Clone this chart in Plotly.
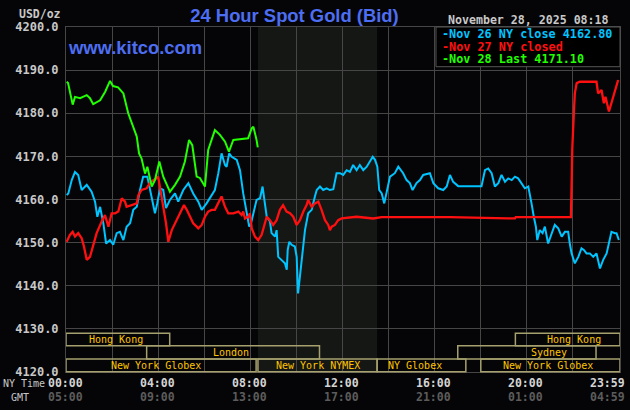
import plotly.graph_objects as go

# ---------------- data ----------------
# hours since 00:00 NY time, price in USD/oz
nov26_time = [0.03, 0.10, 0.25, 0.39, 0.53, 0.68, 0.90, 1.11, 1.26, 1.36, 1.48, 1.62, 1.74, 1.91, 2.05, 2.20, 2.34,
              2.49, 2.63, 2.78, 2.92, 3.07, 3.21, 3.35, 3.53, 3.72, 3.86, 3.96, 4.08, 4.22, 4.34, 4.51, 4.73, 4.87,
              5.09, 5.31, 5.52, 5.74, 5.89, 6.10, 6.32, 6.46, 6.61, 6.75, 6.90, 6.97, 7.08, 7.19, 7.41, 7.55, 7.69,
              7.84, 7.95, 8.03, 8.13, 8.27, 8.42, 8.53, 8.63, 8.71, 8.85, 8.92, 9.07, 9.14, 9.21, 9.36, 9.50, 9.58,
              9.62, 9.69, 9.79, 9.93, 10.01, 10.05, 10.07, 10.15, 10.30, 10.37, 10.51, 10.66, 10.80, 10.88, 11.02,
              11.16, 11.31, 11.45, 11.60, 11.74, 11.89, 12.03, 12.18, 12.32, 12.46, 12.61, 12.75, 12.90, 13.05,
              13.19, 13.31, 13.41, 13.51, 13.59, 13.70, 13.81, 13.91, 14.06, 14.27, 14.42, 14.63, 14.78, 14.92,
              15.04, 15.21, 15.36, 15.50, 15.79, 15.94, 16.15, 16.37, 16.52, 16.66, 16.80, 17.02, 18.03, 18.18,
              18.32, 18.47, 18.61, 18.76, 18.90, 19.05, 19.19, 19.34, 19.48, 19.62, 19.77, 19.91, 20.06, 20.13,
              20.20, 20.30, 20.39, 20.45, 20.56, 20.68, 20.78, 20.92, 21.07, 21.21, 21.36, 21.51, 21.65, 21.79,
              21.87, 21.94, 22.08, 22.23, 22.37, 22.47, 22.59, 22.73, 22.88, 23.02, 23.17, 23.31, 23.46, 23.57,
              23.67, 23.82, 23.89, 23.99]
nov26_price = [4161.0, 4161.4, 4164.5, 4166.4, 4165.7, 4162.2, 4163.4, 4161.8, 4159.5, 4156.0, 4158.3, 4154.5,
               4149.8, 4150.6, 4149.5, 4152.2, 4152.5, 4150.6, 4153.7, 4154.5, 4157.6, 4158.3, 4162.2, 4165.3,
               4165.3, 4160.7, 4156.8, 4159.1, 4162.6, 4162.2, 4158.0, 4159.9, 4161.4, 4159.5, 4162.2, 4163.8,
               4161.4, 4159.5, 4157.6, 4159.1, 4161.0, 4162.2, 4166.1, 4170.7, 4168.0, 4167.6, 4170.7, 4169.9,
               4169.2, 4166.8, 4161.4, 4156.8, 4153.7, 4154.5, 4156.8, 4159.9, 4160.3, 4163.0, 4159.1, 4156.0,
               4154.9, 4152.2, 4151.4, 4152.9, 4146.7, 4146.0, 4145.2, 4143.7, 4148.3, 4150.2, 4149.5, 4149.1,
               4146.7, 4140.6, 4138.2, 4142.1, 4149.1, 4152.9, 4156.8, 4157.6, 4160.7, 4162.2, 4163.0, 4162.2,
               4162.6, 4162.2, 4162.4, 4166.1, 4166.1, 4165.7, 4166.8, 4166.4, 4168.0, 4166.8, 4168.0, 4166.8,
               4167.6, 4168.8, 4169.9, 4169.2, 4167.6, 4162.2, 4161.4, 4159.1, 4161.4, 4165.3, 4166.1, 4167.6,
               4166.1, 4164.5, 4163.8, 4162.2, 4163.8, 4164.5, 4165.7, 4166.1, 4163.8, 4162.6, 4162.2, 4163.0,
               4165.7, 4164.1, 4163.1, 4163.1, 4166.8, 4167.2, 4166.1, 4163.0, 4163.8, 4165.7, 4164.1, 4164.9,
               4164.5, 4165.3, 4164.9, 4163.8, 4162.6, 4163.0, 4161.4, 4159.1, 4156.0, 4153.7, 4150.6, 4152.9,
               4152.2, 4153.7, 4149.8, 4152.2, 4154.1, 4153.3, 4151.4, 4152.5, 4152.5, 4149.5, 4147.5, 4145.2,
               4146.7, 4148.7, 4148.3, 4147.5, 4147.5, 4146.7, 4147.5, 4144.0, 4146.0, 4147.5, 4150.6, 4152.5,
               4152.2, 4152.2, 4150.6]

nov27_time = [0.03, 0.17, 0.29, 0.39, 0.53, 0.68, 0.78, 0.90, 1.04, 1.18, 1.33, 1.55, 1.69, 1.84, 1.98, 2.13, 2.27,
              2.42, 2.56, 2.63, 2.85, 3.07, 3.14, 3.28, 3.50, 3.64, 3.79, 3.93, 4.00, 4.08, 4.22, 4.34, 4.44, 4.59,
              4.73, 4.87, 5.02, 5.12, 5.24, 5.38, 5.52, 5.67, 5.74, 5.89, 6.03, 6.17, 6.32, 6.46, 6.61, 6.75, 6.90,
              7.04, 7.26, 7.48, 7.62, 7.69, 7.77, 7.91, 7.98, 8.06, 8.20, 8.34, 8.49, 8.59, 8.71, 8.85, 8.99, 9.14,
              9.28, 9.42, 9.57, 9.72, 9.86, 10.01, 10.15, 10.30, 10.44, 10.51, 10.66, 10.80, 10.95, 11.09, 11.24,
              11.38, 11.45, 11.53, 11.67, 11.81, 11.96, 12.61, 13.33, 13.70, 16.66, 19.18, 19.48, 19.52, 21.91,
              21.93, 21.97, 22.04, 22.08, 22.16, 22.30, 22.59, 22.81, 23.02, 23.09, 23.24, 23.34, 23.41, 23.56,
              23.67, 23.82, 23.89, 23.96]
nov27_price = [4150.2, 4151.8, 4152.5, 4151.4, 4152.2, 4151.0, 4149.1, 4146.0, 4146.7, 4149.1, 4152.2, 4154.9,
               4156.4, 4153.7, 4156.8, 4156.8, 4157.2, 4160.3, 4159.5, 4158.3, 4158.7, 4159.1, 4161.0, 4162.2,
               4162.6, 4163.8, 4164.5, 4164.9, 4165.3, 4163.0, 4158.3, 4154.5, 4150.2, 4152.9, 4154.5, 4156.0,
               4157.6, 4158.7, 4157.6, 4156.0, 4154.5, 4153.7, 4153.3, 4154.1, 4156.0, 4157.2, 4157.6, 4157.6,
               4159.1, 4160.7, 4158.3, 4156.8, 4156.8, 4157.2, 4156.4, 4157.2, 4155.6, 4156.0, 4156.8, 4153.3,
               4151.4, 4150.6, 4151.8, 4153.7, 4156.0, 4155.2, 4154.1, 4155.2, 4157.6, 4158.7, 4157.2, 4156.8,
               4156.0, 4154.1, 4155.2, 4157.2, 4158.7, 4159.9, 4158.3, 4159.1, 4159.5, 4157.6, 4155.2, 4154.1,
               4152.9, 4153.7, 4154.1, 4155.2, 4155.6, 4156.0, 4155.6, 4155.9, 4155.9, 4155.6, 4155.6, 4155.9,
               4155.9, 4161.0, 4171.9, 4180.4, 4184.6, 4187.0, 4187.3, 4187.3, 4187.3, 4187.3, 4184.6, 4185.4,
               4182.3, 4183.8, 4180.4, 4182.3, 4185.0, 4186.2, 4187.7]

nov28_time = [0.03, 0.09, 0.29, 0.39, 0.61, 0.90, 1.04, 1.18, 1.48, 1.70, 1.91, 2.04, 2.26, 2.49, 2.70, 2.92, 3.07,
              3.17, 3.28, 3.43, 3.53, 3.72, 3.86, 4.05, 4.22, 4.51, 4.73, 4.95, 5.16, 5.34, 5.48, 5.67, 5.81, 6.03,
              6.10, 6.17, 6.46, 6.68, 6.90, 7.07, 7.26, 7.55, 7.90, 8.06, 8.13, 8.27, 8.32]
nov28_price = [4187.3, 4187.0, 4182.0, 4183.8, 4183.5, 4184.2, 4183.5, 4182.1, 4183.0, 4185.0, 4187.5, 4186.3,
               4186.0, 4184.6, 4180.0, 4176.9, 4174.6, 4170.7, 4169.5, 4166.0, 4167.6, 4163.0, 4164.5, 4168.8,
               4165.3, 4161.8, 4163.4, 4165.3, 4168.8, 4173.8, 4172.6, 4165.3, 4165.0, 4163.0, 4167.0, 4171.5,
               4176.1, 4175.0, 4173.4, 4171.1, 4173.8, 4174.0, 4174.2, 4176.5, 4176.9, 4173.8, 4172.1]

series_names = ["Nov 26 NY close 4162.80", "Nov 27 NY closed", "Nov 28 Last 4171.10"]

price_ticks = [4120, 4130, 4140, 4150, 4160, 4170, 4180, 4190, 4200]
time_tick_hours = [0, 4, 8, 12, 16, 20, 23.983]
ny_time_labels = ["00:00", "04:00", "08:00", "12:00", "16:00", "20:00", "23:59"]
gmt_time_labels = ["05:00", "09:00", "13:00", "17:00", "21:00", "01:00", "04:59"]

# trading sessions: (row, start hour, end hour, label)
sessions = [
    (0, 0.0, 4.5, "Hong Kong"),
    (0, 19.5, 24.04, "Hong Kong"),
    (1, 3.5, 11.0, "London"),
    (1, 17.0, 23.0, "Sydney"),
    (2, 0.0, 8.25, "New York Globex"),
    (2, 8.33, 13.5, "New York NYMEX"),
    (2, 13.5, 17.35, "NY Globex"),
    (2, 18.0, 24.04, "New York Globex"),
]
shaded_span = [8.33, 13.5]   # current-time to NYMEX close

title_text = "24 Hour Spot Gold (Bid)"
timestamp_text = "November 28, 2025 08:18"
site_text = "www.kitco.com"
unit_text = "USD/oz"

# ---------------- styling / layout ----------------
W, H = 630, 410
L, R, T, B = 66, 10, 27, 38
PW, PH = W - L - R, H - T - B
X_RANGE = [0, 24.04]


def px(xp):
    return (xp - L) / PW


def py(yp):
    return (H - B - yp) / PH


MONO = "DejaVu Sans Mono"
SANS = "Liberation Sans, Arial"
BG = "#050507"
GRID = "#464646"
colors = ["#00c4ff", "#ff1010", "#22ff00"]
widths = [2, 2.3, 2]

fig = go.Figure()
for t, p, c, n, w in zip([nov26_time, nov27_time, nov28_time],
                         [nov26_price, nov27_price, nov28_price], colors, series_names, widths):
    fig.add_trace(go.Scatter(x=t, y=p, mode="lines", name=n,
                             line=dict(color=c, width=w), showlegend=False, hoverinfo="skip"))

shapes = []
# shaded region
shapes.append(dict(type="rect", xref="x", yref="paper", x0=shaded_span[0], x1=shaded_span[1],
                   y0=0, y1=1, fillcolor="#151715", line=dict(width=0), layer="below"))
# session boxes
row_bounds = [(py(345.7), py(333.3)), (py(359.0), py(345.7)), (py(371.7), py(359.0))]
label_offsets = {"Hong Kong": -2, "London": -2, "New York Globex": -5, "New York NYMEX": 0,
                 "NY Globex": -6, "Sydney": 22}
annotations = []
for row, s, e, lab in sessions:
    y0, y1 = row_bounds[row]
    shapes.append(dict(type="rect", xref="x", yref="paper", x0=s, x1=e, y0=y0, y1=y1,
                       line=dict(color="#a5a06e", width=1.5), fillcolor="rgba(0,0,0,0)", layer="above"))
    off = label_offsets.get(lab, 0)
    if lab == "Hong Kong" and s > 10:
        off = 6
    if lab == "New York Globex" and s > 10:
        off = -2
    annotations.append(dict(x=(s + min(e, X_RANGE[1])) / 2, y=(y0 + y1) / 2, xref="x", yref="paper",
                            text=lab, showarrow=False, xshift=off,
                            font=dict(family=MONO, size=10, color="#ffc400"),
                            xanchor="center", yanchor="middle"))

# legend box
shapes.append(dict(type="rect", xref="paper", yref="paper", x0=px(436), x1=1, y0=py(66.7), y1=1,
                   fillcolor="#000000", line=dict(color="#555555", width=1), layer="above"))
legend_y = [34, 46.5, 59]
for name, c, yy in zip(series_names, colors, legend_y):
    annotations.append(dict(x=px(440), y=py(yy), xref="paper", yref="paper", text="-" + name,
                            showarrow=False, xanchor="left", yanchor="middle",
                            font=dict(family=MONO, size=11.8, color=c, weight="bold")))

# time labels
for i, (h, ny, gmt) in enumerate(zip(time_tick_hours, ny_time_labels, gmt_time_labels)):
    shift = -11 if i == len(time_tick_hours) - 1 else -1
    annotations.append(dict(x=h, y=py(383), xref="x", yref="paper", text=ny, showarrow=False,
                            xanchor="center", yanchor="middle", xshift=shift,
                            font=dict(family=MONO, size=11.5, color="#d4d4d4", weight="bold")))
    annotations.append(dict(x=h, y=py(397), xref="x", yref="paper", text=gmt, showarrow=False,
                            xanchor="center", yanchor="middle", xshift=shift,
                            font=dict(family=MONO, size=11.5, color="#5c5c5c", weight="bold")))
annotations.append(dict(x=px(24), y=py(383), xref="paper", yref="paper", text="NY Time", showarrow=False,
                        xanchor="center", yanchor="middle",
                        font=dict(family=MONO, size=10, color="#c8c8c8")))
annotations.append(dict(x=px(20), y=py(397), xref="paper", yref="paper", text="GMT", showarrow=False,
                        xanchor="center", yanchor="middle",
                        font=dict(family=MONO, size=10, color="#c8c8c8")))
# unit, site, timestamp
annotations.append(dict(x=px(63), y=py(13.5), xref="paper", yref="paper", text=unit_text, showarrow=False,
                        xanchor="right", yanchor="middle",
                        font=dict(family=MONO, size=11.5, color="#c8c8c8", weight="bold")))
annotations.append(dict(x=px(66), y=py(48), xref="paper", yref="paper", text=site_text, showarrow=False,
                        xanchor="left", yanchor="middle",
                        font=dict(family=SANS, size=18.4, color="#4d6ef2", weight="bold")))
annotations.append(dict(x=px(446), y=py(20), xref="paper", yref="paper", text=timestamp_text,
                        showarrow=False, xanchor="left", yanchor="middle",
                        font=dict(family=MONO, size=11.6, color="#c8c8c8", weight="bold")))

fig.update_layout(
    width=W, height=H,
    margin=dict(l=L, r=R, t=T, b=B, pad=0),
    paper_bgcolor=BG, plot_bgcolor=BG,
    title=dict(text=title_text, x=294.5 / W, y=1 - 15.5 / H, xref="container", yref="container",
               xanchor="center", yanchor="middle",
               font=dict(family=SANS, size=18.4, color="#4d6ef2", weight="bold")),
    xaxis=dict(range=X_RANGE, tick0=0, dtick=2, showticklabels=False, showgrid=True,
               gridcolor=GRID, gridwidth=1, zeroline=False, showline=True, mirror=True,
               linecolor=GRID, linewidth=1, fixedrange=True),
    yaxis=dict(range=[4120, 4200], tickvals=price_ticks, tickformat=".1f", showgrid=True,
               gridcolor=GRID, gridwidth=1, zeroline=False, showline=True, mirror=True,
               linecolor=GRID, linewidth=1, ticks="", ticklabelstandoff=4,
               tickfont=dict(family=MONO, size=12, color="#c8c8c8", weight="bold"), fixedrange=True),
    shapes=shapes,
    annotations=annotations,
    showlegend=False,
)

fig.write_html("out.html")
